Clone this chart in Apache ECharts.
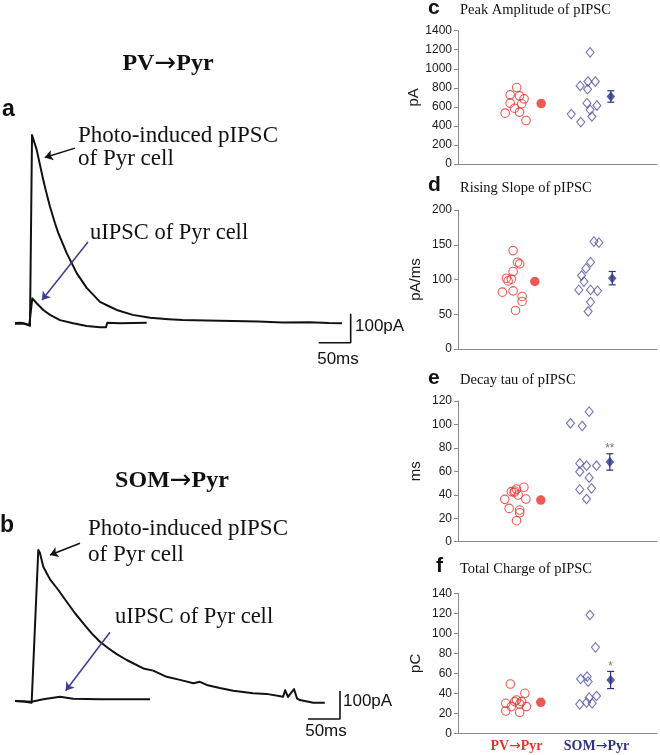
<!DOCTYPE html>
<html><head><meta charset="utf-8">
<script src="https://cdn.jsdelivr.net/npm/echarts@6/dist/echarts.min.js"></script>
<style>html,body{margin:0;padding:0;background:#fff}#c{width:660px;height:755px}</style>
</head><body><div id="c"></div>
<script>
// ---------- DATA ----------
const groups = ['PV→Pyr', 'SOM→Pyr'];
const groupX = [2.94, 6.96];

// traces [ms, pA]
const pvPIPSC = [[0,0],[8,1],[15.6,-2],[23.4,-10],[26.6,648],[33.9,597],[44.2,493],[47.9,459],[54.7,401],[62.5,344],[67.7,310],[80.8,241],[96.4,172],[112,121],[132.8,73],[148.4,56],[158.9,45],[184,28],[211,18],[240,13],[262,10],[300,9],[340,7],[380,5],[418,2],[460,3],[490,0],[511,-1]];
const pvUIPSC = [[0,-3],[12,-2],[22.3,-7],[23.4,-13],[27,85],[33.9,68],[44.2,45],[54.7,28],[70.3,10],[91,-1],[112,-10],[132.8,-15],[142,-15],[144.2,1],[164,-1],[185,0],[205.8,1]];
const somPIPSC = [[0,3.6],[14,2],[26,-2.5],[28.6,-3.6],[36.4,543],[39,532],[44.2,483],[54.7,438],[67.7,400],[80.8,358],[93.75,317],[106.7,281],[119.8,245],[132.8,215],[145.8,192],[158.9,171],[174.5,150],[200.5,120],[216,112],[237,90],[257.8,79],[278.6,67],[289,72],[299.5,61],[320,50],[341,40],[372,31],[393,29],[419,19],[422,42],[426.6,18],[436,46],[440.6,13],[445,7],[466,-2.5],[484,-2.5]];
const somUIPSC = [[0,3.6],[26,1],[28.6,-2.5],[44.2,9.6],[70.3,19],[91,12],[132.8,9.6],[211,9.6]];
const scaleMs = 50, scalePA = 100;

// scatter panels
const panelTitles = ['Peak Amplitude of pIPSC', 'Rising Slope of pIPSC', 'Decay tau of pIPSC', 'Total Charge of pIPSC'];
const panelLetters = ['c', 'd', 'e', 'f'];
const panelUnits = ['pA', 'pA/ms', 'ms', 'pC'];
const panelMax = [1400, 200, 120, 140];
const panelStep = [200, 50, 20, 20];

const pvX_c = [2.95,2.62,3.09,3.32,2.62,3.20,2.84,2.37,3.09,3.42];
const pvY_c = [803,726,716,684,639,632,586,534,545,457];
const somX_c = [6.64,6.14,6.53,6.90,6.51,6.48,6.98,6.64,6.73,5.69,6.17];
const somY_c = [1173,820,866,866,785,639,614,569,499,524,440];

const pvX_d = [2.77,2.99,3.10,2.77,2.43,2.52,2.68,2.23,2.77,3.22,3.22,2.89];
const pvY_d = [141.6,124.9,122.5,111.5,101.9,98,100.5,81.8,83.7,75.6,68.4,55.5];
const somX_d = [6.83,7.08,6.66,6.43,6.21,6.33,6.07,6.66,7.01,6.66,6.54];
const somY_d = [154.5,153,124.9,116,105.7,97,85,85,83.7,67.5,54];

const pvX_e = [3.31,2.94,2.68,2.85,2.82,3.02,2.35,3.41,2.57,3.10,3.10,2.94];
const pvY_e = [46.4,44.9,42.7,43.2,42,39.8,36.1,36.4,28.4,27,24.7,17.9];
const somX_e = [6.59,5.65,6.24,6.12,6.46,6.96,6.12,6.59,6.12,6.71,6.46];
const somY_e = [110.9,101,98.7,66.8,64.8,64.8,59.7,54.6,44.6,45.5,36.4];

const pvX_f = [2.63,3.36,2.94,2.85,3.19,2.40,3.10,3.44,2.68,2.40,3.10];
const pvY_f = [49.3,40,33.3,31.7,31.7,30,29.3,26.7,26.7,22.3,21];
const somX_f = [6.63,6.91,6.16,6.49,6.54,6.96,6.59,6.12,6.46,6.74];
const somY_f = [118.3,86,54.3,56.7,51.7,37.3,35.7,29,30.7,30];

const pvMeanX = [4.18, 3.86, 4.16, 4.16];
const pvMean = [635, 97.1, 35.5, 31];
const somMeanX = [7.68, 7.75, 7.63, 7.67];
const somMean = [709, 101.9, 68, 53.3];
const somSem = [60, 9.6, 7, 8.6];
const significance = ['', '', '**', '*'];

// ---------- STYLE / LAYOUT ----------
const RED = '#e8312a', BLUE = '#4d51a0', NAVY = '#2e3283', AX = '#8a8a8a';
const SERIF = 'Liberation Serif', SANS = 'Liberation Sans', ARROWF = 'DejaVu Sans';
const rightGrids = [
  {left: 458, top: 30.7, width: 199, height: 133.3},
  {left: 458, top: 210, width: 199, height: 139},
  {left: 458, top: 401, width: 199, height: 140.7},
  {left: 458, top: 593.3, width: 199, height: 140}
];
const titleY = [10, 188, 380, 569];
const letterPos = [[428, 8], [428, 185], [428, 378], [436, 566]];

const pvX = [pvX_c, pvX_d, pvX_e, pvX_f], pvY = [pvY_c, pvY_d, pvY_e, pvY_f];
const somX = [somX_c, somX_d, somX_e, somX_f], somY = [somY_c, somY_d, somY_e, somY_f];

// split "A→B" into rich segments so the arrow uses a font with a full-width arrow
function arrowRich(s, key) {
  const p = s.split('→');
  return '{' + key + '|' + p[0] + '}{' + key + 'A|→}{' + key + '|' + p[1] + '}';
}

const grid = [], xAxis = [], yAxis = [], series = [];
rightGrids.forEach((g, i) => {
  grid.push(g);
  const last = i === 3;
  xAxis.push({
    type: 'value', gridIndex: i, min: 0, max: 10,
    axisLine: {show: true, lineStyle: {color: AX, width: 1}},
    axisTick: {show: false}, splitLine: {show: false},
    axisLabel: last ? {
      show: true, customValues: groupX, margin: 6,
      formatter: v => v < 5 ? arrowRich(groups[0], 'r') : arrowRich(groups[1], 'b'),
      rich: {
        r: {color: RED, fontFamily: SERIF, fontWeight: 'bold', fontSize: 14},
        rA: {color: RED, fontFamily: ARROWF, fontWeight: 'normal', fontSize: 14},
        b: {color: NAVY, fontFamily: SERIF, fontWeight: 'bold', fontSize: 14},
        bA: {color: NAVY, fontFamily: ARROWF, fontWeight: 'normal', fontSize: 14}
      }
    } : {show: false}
  });
  yAxis.push({
    type: 'value', gridIndex: i, min: 0, max: panelMax[i], interval: panelStep[i],
    axisLine: {show: true, lineStyle: {color: AX, width: 1}},
    axisTick: {show: true, length: 4, lineStyle: {color: AX}},
    splitLine: {show: false},
    axisLabel: {color: '#1a1a1a', fontFamily: SANS, fontSize: 12, margin: 6, formatter: v => String(v)},
    name: panelUnits[i], nameLocation: 'middle', nameRotate: 90, nameGap: 35,
    nameTextStyle: {color: '#1a1a1a', fontFamily: SANS, fontSize: 15}
  });
  series.push({
    type: 'scatter', xAxisIndex: i, yAxisIndex: i, symbol: 'circle', symbolSize: 8.5,
    itemStyle: {color: 'rgba(255,255,255,0)', borderColor: RED, borderWidth: 1.1},
    data: pvX[i].map((x, k) => [x, pvY[i][k]])
  });
  series.push({
    type: 'scatter', xAxisIndex: i, yAxisIndex: i, symbol: 'diamond', symbolSize: [8, 9.5],
    itemStyle: {color: 'rgba(255,255,255,0)', borderColor: BLUE, borderWidth: 1.1},
    data: somX[i].map((x, k) => [x, somY[i][k]])
  });
  series.push({
    type: 'scatter', xAxisIndex: i, yAxisIndex: i, symbol: 'circle', symbolSize: 9.5,
    itemStyle: {color: RED}, data: [[pvMeanX[i], pvMean[i]]]
  });
  series.push({
    type: 'custom', xAxisIndex: i, yAxisIndex: i,
    data: [[somMeanX[i], somMean[i], somSem[i]]],
    renderItem: (params, api) => {
      const x = api.value(0), y = api.value(1), e = api.value(2);
      const t = api.coord([x, y + e]), b = api.coord([x, y - e]);
      const st = {stroke: NAVY, lineWidth: 1.2};
      const ch = [
        {type: 'line', shape: {x1: t[0], y1: t[1], x2: b[0], y2: b[1]}, style: st},
        {type: 'line', shape: {x1: t[0] - 3.5, y1: t[1], x2: t[0] + 3.5, y2: t[1]}, style: st},
        {type: 'line', shape: {x1: b[0] - 3.5, y1: b[1], x2: b[0] + 3.5, y2: b[1]}, style: st}
      ];
      if (significance[i]) ch.push({type: 'text', x: t[0], y: t[1] + 1,
        style: {text: significance[i], fill: '#777', fontSize: 12, fontFamily: SANS,
          align: 'center', verticalAlign: 'bottom', textAlign: 'center', textVerticalAlign: 'bottom'}});
      return {type: 'group', children: ch};
    }
  });
  series.push({
    type: 'scatter', xAxisIndex: i, yAxisIndex: i, symbol: 'diamond', symbolSize: [8.5, 10],
    itemStyle: {color: NAVY}, data: [[somMeanX[i], somMean[i]]], z: 5
  });
});

// trace grids
const traceGrids = [
  {left: 15, top: 120, width: 358.4, height: 226.2, ymin: -80, ymax: 700,
   traces: [pvPIPSC, pvUIPSC], corner: [524.5, -68],
   black: [[93.75, 603], [46.5, 571]], blue: [[114, 279], [42.2, 79]]},
  {left: 15, top: 520, width: 358.4, height: 204.4, ymin: -80, ymax: 650,
   traces: [somPIPSC, somUIPSC], corner: [507.8, -60.7],
   black: [[101.6, 566.8], [54.7, 525]], blue: [[148.4, 249], [79.2, 40.4]]}
];
traceGrids.forEach((g, j) => {
  const gi = grid.length;
  grid.push({left: g.left, top: g.top, width: g.width, height: g.height});
  xAxis.push({type: 'value', gridIndex: gi, min: 0, max: 560, show: false});
  yAxis.push({type: 'value', gridIndex: gi, min: g.ymin, max: g.ymax, show: false});
  g.traces.forEach(tr => series.push({
    type: 'line', xAxisIndex: gi, yAxisIndex: gi, data: tr, showSymbol: false,
    lineStyle: {color: '#111', width: 2, join: 'round'}, silent: true
  }));
  const c = g.corner;
  series.push({
    type: 'line', xAxisIndex: gi, yAxisIndex: gi, showSymbol: false, silent: true,
    data: [[c[0] - scaleMs, c[1]], [c[0], c[1]], [c[0], c[1] + scalePA]],
    lineStyle: {color: '#111', width: 1.6}
  });
  series.push({
    type: 'line', xAxisIndex: gi, yAxisIndex: gi, data: [], silent: true,
    markLine: {
      silent: true, symbol: ['none', 'arrow'], symbolSize: 8, animation: false,
      label: {show: false},
      data: [
        [{coord: g.black[0], lineStyle: {color: '#111', width: 1.5, type: 'solid'}}, {coord: g.black[1]}],
        [{coord: g.blue[0], lineStyle: {color: '#3b3d90', width: 1.5, type: 'solid'}}, {coord: g.blue[1]}]
      ]
    }
  });
});

// text graphics
function txt(x, y, text, size, family, weight, color, align, rich) {
  return {type: 'text', x: x, y: y, silent: true,
    style: {text: text, fontSize: size, fontFamily: family, fontWeight: weight || 'normal', fill: color || '#111',
      align: align || 'left', verticalAlign: 'middle', textAlign: align || 'left', textVerticalAlign: 'middle', rich: rich}};
}
const headRich = {
  h: {fontSize: 24, fontFamily: SERIF, fontWeight: 'bold', color: '#111'},
  hA: {fontSize: 26, fontFamily: ARROWF, fontWeight: 'normal', color: '#111'}
};
const graphic = [
  txt(168, 64, arrowRich('PV→Pyr', 'h'), 24, SERIF, 'bold', '#111', 'center', headRich),
  txt(172, 481, arrowRich('SOM→Pyr', 'h'), 24, SERIF, 'bold', '#111', 'center', headRich),
  txt(2, 110, 'a', 23, SANS, 'bold'),
  txt(0, 526, 'b', 23, SANS, 'bold'),
  txt(78, 136, 'Photo-induced pIPSC', 23, SERIF),
  txt(78, 159, 'of Pyr cell', 23, SERIF),
  txt(90, 233, 'uIPSC of Pyr cell', 22.5, SERIF),
  txt(88, 529, 'Photo-induced pIPSC', 23, SERIF),
  txt(88, 555, 'of Pyr cell', 23, SERIF),
  txt(115, 617, 'uIPSC of Pyr cell', 22.5, SERIF),
  txt(355, 326, '100pA', 17, SANS),
  txt(338, 359, '50ms', 17, SANS, 'normal', '#111', 'center'),
  txt(343, 701, '100pA', 17, SANS),
  txt(326, 731, '50ms', 17, SANS, 'normal', '#111', 'center')
];
panelTitles.forEach((t, i) => {
  graphic.push(txt(460, titleY[i], t, 14.5, SERIF));
  graphic.push(txt(letterPos[i][0], letterPos[i][1], panelLetters[i], 21, SANS, 'bold'));
});

const chart = echarts.init(document.getElementById('c'), null, {renderer: 'canvas'});
chart.setOption({animation: false, backgroundColor: '#fff', grid, xAxis, yAxis, series, graphic});
</script></body></html>
